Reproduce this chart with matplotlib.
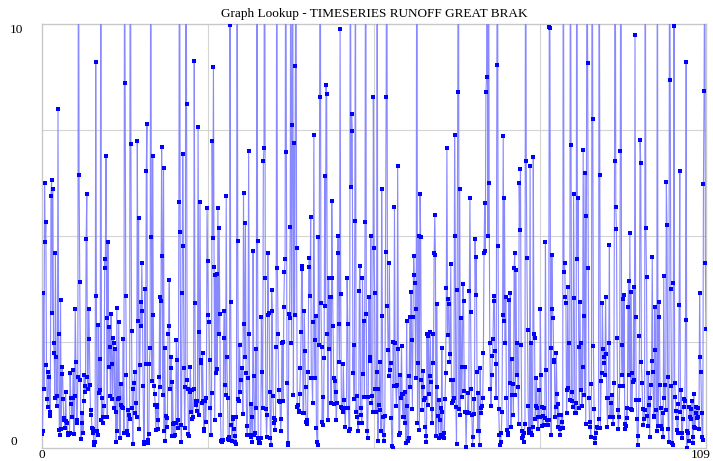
import numpy as np
import matplotlib.pyplot as plt
from matplotlib.transforms import ScaledTranslation

title = "Graph Lookup - TIMESERIES RUNOFF GREAT BRAK"
x_ticks = [0, 109]
x_tick_labels = ["0", "109"]
y_ticks = [0, 10]
y_tick_labels = ["0", "10"]

# monthly runoff, left to right (values > 10 run off the top)
runoff_01 = [0.32, 0.4, 3.65, 1.4, 6.24, 4.87, 5.32, 1.96, 1.16, 0.96, 1.8, 1.67, 0.86, 0.75, 5.95, 6.32,
             3.19, 6.12, 2.47, 2.25, 1.19, 4.6, 2.15, 1.0, 1.23, 7.99, 2.68, 0.42, 0.31, 3.49, 0.44, 1.74,
             1.92, 1.16, 0.66, 0.7, 0.46, 1.33, 0.63, 0.58, 0.35, 0.31, 0.32, 0.35, 1.76, 1.17, 1.03, 0.74,
             1.19, 1.83, 0.32, 1.23, 3.29, 2.04, 0.66, 0.6, 1.68, 14, 6.45, 3.92, 1.6, 0.21, 0.6, 0.83,
             0.35, 1.12, 1.72, 1.33, 1.46, 4.92, 6.0, 1.68, 1.38, 3.27, 2.57, 1.49, 0.77, 0.9, 0.48, 0.44,
             0.36, 0.15, 0.07, 0.13, 9.11, 3.59, 0.4, 0.31, 2.9, 1.29]
runoff_02 = [2.09, 1.37, 15, 0.66, 1.17, 0.58, 0.74, 1.0, 4.45, 4.25, 6.89, 3.06, 0.72, 4.87, 1.92, 2.86,
             2.39, 1.23, 3.16, 1.98, 1.15, 2.6, 2.48, 0.94, 2.33, 0.86, 0.15, 3.3, 0.4, 1.16, 2.97, 1.18,
             0.23, 1.52, 1.02, 0.97, 0.94, 2.56, 0.35, 13, 8.62, 3.59, 1.72, 0.41, 0.31, 0.9, 0.78, 0.68,
             16, 7.17, 2.75, 0.94, 0.09, 1.4, 1.54, 1.8, 0.83, 1.05, 0.72, 7.25, 3.0, 5.42, 0.44, 1.96,
             3.44, 2.88, 4.37, 3.22, 1.46, 0.13, 0.09, 3.74, 1.97, 6.53, 7.63, 0.2, 0.11, 0.33, 1.98, 2.37,
             14, 4.97, 1.59, 6.89, 3.14, 1.46, 1.27, 1.02, 0.42]
runoff_03 = [1.02, 0.97, 0.66, 0.44, 1.67, 3.55, 1.45, 3.46, 7.1, 4.54, 1.25, 6.6, 0.39, 2.37, 0.17, 0.75,
             0.5, 0.7, 2.7, 2.88, 3.96, 1.4, 1.88, 2.15, 0.28, 1.56, 0.56, 0.28, 0.58, 0.31, 0.6, 2.55,
             2.08, 0.66, 0.46, 5.81, 15, 5.1, 0.54, 0.15, 3.65, 6.93, 4.77, 1.89, 0.48, 1.45, 17, 8.11,
             1.6, 1.4, 0.32, 0.28, 1.33, 1.92, 0.86, 1.37, 0.68, 0.74, 1.38, 9.13, 3.43, 1.02, 1.1, 0.88,
             1.1, 7.56, 2.73, 0.78, 5.81, 2.0, 2.08, 1.05, 2.23, 1.11, 0.41, 0.44, 1.1, 0.62, 1.17, 5.65,
             4.4, 3.14, 2.98, 2.08, 0.95, 0.31, 1.29, 7.24, 4.96]
runoff_04 = [8.99, 4.26, 0.66, 4.08, 1.78, 4.1, 1.86, 5.65, 2.69, 5.2, 3.16, 0.78, 0.17, 0.13, 0.2, 0.19,
             2.59, 3.24, 1.49, 1.25, 5.94, 2.14, 1.19, 0.21, 0.27, 0.2, 9.97, 3.44, 0.54, 0.17, 0.68, 0.72,
             0.44, 0.28, 0.13, 0.09, 0.72, 14, 4.88, 1.15, 1.1, 2.43, 1.33, 1.6, 1.89, 1.88, 0.8, 6.02,
             2.92, 2.14, 5.3, 1.76, 0.52, 0.31, 1.66, 7.0, 2.69, 0.31, 0.27, 1.03, 0.72, 0.13, 4.64, 1.7,
             0.31, 0.35, 2.33, 0.94, 15, 4.88, 0.24, 0.11, 0.17, 0.11, 0.24, 3.1, 1.79, 0.94, 6.77, 7.08,
             16, 4.0, 0.91]
runoff_05 = [0.27, 0.78, 4.61, 3.14, 3.18, 1.33, 0.23, 0.07, 3.73, 3.22, 1.23, 0.7, 0.58, 0.42, 0.66, 2.39,
             14, 4.24, 2.68, 1.37, 1.11, 1.09, 0.39, 0.68, 2.48, 2.51, 1.11, 3.33, 4.14, 4.45, 15, 6.97,
             1.53, 0.11, 0.07, 3.16, 3.06, 5.22, 15, 2.48, 7.61, 12, 1.25, 7.2, 3.14, 9.01, 13, 4.71,
             0.97, 1.02, 0.86, 0.87, 1.27, 1.89, 2.74, 4.29, 4.21, 0.82, 0.83, 3.22, 2.29, 1.45, 0.62, 0.66,
             0.56, 1.8, 4.28, 4.47, 3.58, 5.44, 1.64, 1.66, 1.05, 2.98, 7.38, 2.55, 1.66, 3.11, 0.46, 0.15,
             0.07, 4.97, 2.43, 8.27, 14, 3.41, 2.39, 0.62, 1.21]
runoff_06 = [0.54, 2.13, 6.41, 3.35, 8.56, 8.35, 2.7, 0.66, 4.02, 2.34, 3.57, 3.57, 1.05, 5.83, 4.02, 2.88,
             1.64, 1.04, 1.58, 1.33, 0.66, 1.07, 4.59, 5.0, 2.92, 2.04, 9.88, 3.63, 0.97, 0.94, 0.86, 1.98,
             1.13, 0.94, 0.49, 0.94, 0.95, 4.02, 2.93, 0.95, 0.4, 0.44, 15, 6.16, 7.87, 7.48, 1.76, 2.43,
             1.15, 5.36, 13, 0.86, 1.23, 0.74, 0.4, 0.58, 3.71, 4.29, 0.94, 0.78, 0.58, 4.02, 1.74, 3.0,
             1.21, 5.34, 16, 3.15, 0.41, 0.23, 1.21, 3.57, 2.06, 2.15, 4.99, 1.07, 1.23, 0.86, 8.27, 4.71,
             3.65, 1.38, 0.86, 1.8]
runoff_07 = [14, 0.17, 1.38, 1.02, 2.04, 0.9, 0.41, 6.1, 3.12, 0.74, 0.17, 0.31, 0.75, 4.63, 8.27, 15,
             3.35, 2.31, 1.7, 4.37, 1.84, 2.0, 0.7, 0.05, 0.01, 2.5, 1.47, 5.68, 2.47, 1.47, 1.0, 1.49,
             6.65, 2.33, 0.31, 0.36, 1.72, 1.17, 2.41, 1.27, 0.74, 1.27, 0.74, 0.58, 1.33, 0.11, 2.99, 0.99,
             0.17, 0.23, 1.7, 3.1, 1.45, 3.69, 2.55, 0.92, 3.1, 4.54, 4.08, 3.89, 1.66, 3.29, 17, 0.58,
             2.0, 4.99, 0.42, 6.0, 4.97, 1.6, 0.9, 1.45, 1.82, 1.13, 1.17, 0.5, 0.29, 0.15, 2.69, 1.02,
             2.64, 1.27, 1.7, 2.74, 1.56, 0.91, 0.58, 2.69]
runoff_08 = [2.0, 4.59, 5.49, 4.56, 0.28, 3.39, 1.45, 0.75, 0.23, 1.13, 0.66, 0.94, 0.31, 2.35, 0.86, 0.27,
             0.23, 0.35, 1.16, 1.78, 3.77, 7.07, 2.67, 3.52, 3.4, 2.04, 2.21, 4.33, 1.6, 1.07, 1.6, 1.12,
             1.17, 7.38, 4.99, 0.96, 0.09, 3.73, 8.4, 15, 0.91, 6.1, 0.78, 3.06, 1.21, 1.92, 3.86, 3.46,
             1.34, 1.9, 0.86, 0.03, 0.86, 0.82, 1.29, 0.82, 3.71, 5.89, 3.2, 1.38, 0.78, 0.07, 0.27, 1.16,
             0.8, 4.94, 3.6, 4.5, 1.8, 0.39, 1.3, 0.39, 0.07, 1.88, 0.82, 0.95, 0.99, 1.19, 2.23, 4.6,
             5.77, 4.65, 8.4, 8.74, 16]
runoff_09 = [5.0, 15, 6.24, 2.48, 1.38, 0.99, 1.72, 2.17, 2.56, 3.47, 3.58, 2.29, 1.97, 1.17, 9.03, 14,
             4.76, 0.91, 0.31, 0.07, 0.15, 0.35, 0.86, 3.14, 7.36, 3.0, 5.9, 2.48, 3.57, 1.17, 0.42, 0.35,
             0.31, 3.49, 1.53, 3.65, 0.5, 2.09, 1.25, 1.5, 0.79, 4.24, 4.59, 1.25, 4.2, 1.72, 2.48, 1.45,
             0.56, 6.24, 5.14, 6.58, 2.43, 0.39, 0.23, 0.28, 0.15, 0.35, 0.56, 16, 6.78, 4.47, 2.78, 0.99,
             0.44, 0.35, 6.66, 0.35, 2.47, 0.31, 0.5, 6.87, 2.7, 2.6, 0.68, 0.99, 1.66, 0.94, 0.44, 0.72,
             1.37, 0.72, 3.27, 1.72, 0.96]
runoff_10 = [0.52, 0.75, 0.54, 0.94, 0.7, 4.87, 1.84, 0.54, 0.66, 0.54, 0.66, 9.94, 9.9, 2.35, 0.31, 4.55,
             3.29, 3.06, 2.04, 2.08, 0.72, 0.96, 2.25, 1.27, 0.5, 1.04, 0.79, 0.44, 0.31, 0.48, 0.79, 0.62,
             0.46, 15, 4.16, 4.37, 3.57, 3.43, 0.82, 1.37, 3.8, 1.41, 2.48, 1.13, 14, 7.15, 1.33, 1.11,
             0.96, 6.0, 3.53, 0.83, 1.05, 0.82, 16, 4.45, 5.9, 2.39, 0.94, 3.45, 1.37, 2.47, 0.99, 1.92,
             7.03, 3.11, 1.25, 6.48, 0.57, 5.46, 13, 9.07, 4.25, 1.17, 0.62, 0.5, 0.27, 1.5, 15, 7.76,
             2.41, 0.91, 0.23, 0.11]
runoff_11 = [0.35, 0.49, 0.49, 0.46, 0.68, 14, 6.44, 0.48, 1.58, 1.76, 3.43, 2.33, 2.15, 2.0, 1.72, 3.57,
             2.21, 1.19, 0.5, 1.19, 2.47, 4.79, 0.74, 1.05, 0.74, 1.25, 0.72, 0.56, 1.54, 6.77, 15, 5.68,
             5.16, 2.59, 0.9, 0.44, 0.72, 1.46, 7.01, 16, 2.43, 1.72, 3.51, 1.46, 3.61, 0.56, 0.44, 0.52,
             0.94, 0.7, 3.32, 3.95, 1.72, 5.08, 0.91, 3.69, 0.9, 1.76, 1.56, 3.8, 1.6, 9.74, 3.1, 1.13,
             0.68, 0.07, 0.28, 1.13, 2.63, 7.26, 6.71, 2.04, 1.54, 0.91, 0.54, 0.68, 0.9, 14, 5.18, 4.03,
             0.75, 0.52, 1.76, 1.02]
runoff_12 = [0.25, 1.17, 1.49, 2.06, 4.51, 1.8, 0.75, 0.72, 3.33, 2.31, 0.9, 0.39, 15, 0.52, 3.1, 3.45,
             1.49, 0.94, 0.52, 0.44, 0.82, 0.27, 4.06, 1.17, 1.49, 0.9, 6.28, 5.26, 1.68, 0.44, 0.15, 14,
             8.68, 3.74, 1.46, 0.11, 0.07, 3.88, 9.95, 1.53, 1.21, 0.88, 0.7, 0.42, 0.36, 1.04, 3.37, 6.54,
             0.86, 1.37, 0.23, 0.35, 0.68, 1.15, 0.97, 1.11, 3.02, 9.1, 0.01, 0.41, 0.36, 0.17, 0.97, 0.72,
             0.91, 0.68, 1.11, 0.11, 0.27, 1.27, 0.5, 0.46, 0.96, 0.83, 0.7, 0.74, 0.95, 0.44, 3.65, 2.15,
             1.8, 0.83, 0.25, 0.19, 6.23, 8.42, 13, 4.37, 2.8]

runoff = np.array(runoff_01 + runoff_02 + runoff_03 + runoff_04 + runoff_05 + runoff_06
                  + runoff_07 + runoff_08 + runoff_09 + runoff_10 + runoff_11 + runoff_12)
t = np.linspace(x_ticks[0], x_ticks[-1], len(runoff))

plt.rcParams['font.family'] = ['Liberation Serif', 'DejaVu Serif']

fig = plt.figure(figsize=(7.13, 4.61), dpi=100)
ax = fig.add_axes([42 / 713, 13 / 461, 664 / 713, 424 / 461])

ax.plot(t, runoff, color='#8888ff', lw=0.8, marker='s', ms=2.3,
        mfc='#0000ff', mec='#0000ff', mew=0, zorder=3)

ax.set_xlim(x_ticks[0], x_ticks[-1])
ax.set_ylim(y_ticks[0], y_ticks[-1])

# grid: 4 divisions each way
ax.set_xticks(np.linspace(x_ticks[0], x_ticks[-1], 5)[1:-1], minor=True)
ax.set_yticks(np.linspace(y_ticks[0], y_ticks[-1], 5)[1:-1], minor=True)
ax.grid(which='minor', color='#d4d4d4', lw=0.8)
ax.set_axisbelow(True)

ax.set_xticks(x_ticks)
ax.set_xticklabels(x_tick_labels)
ax.set_yticks(y_ticks)
ax.set_yticklabels(y_tick_labels)
ax.tick_params(which='both', length=0, labelsize=9.5)
ax.tick_params(axis='x', pad=1)
ax.tick_params(axis='y', pad=23)
for lab in ax.get_yticklabels():
    lab.set_horizontalalignment('left')
ylabs = ax.get_yticklabels()
ylabs[0].set_verticalalignment('bottom')
ylabs[1].set_verticalalignment('top')
# last x label sits a little past the right edge, as in the source
last = ax.get_xticklabels()[1]
last.set_horizontalalignment('right')
last.set_transform(last.get_transform() + ScaledTranslation(5 / 100, 0, fig.dpi_scale_trans))

for sp in ax.spines.values():
    sp.set_color('#c8c8c8')
    sp.set_linewidth(1.0)

ax.set_title(title, fontsize=9.5, pad=5)

fig.savefig('out.png', dpi=100)
